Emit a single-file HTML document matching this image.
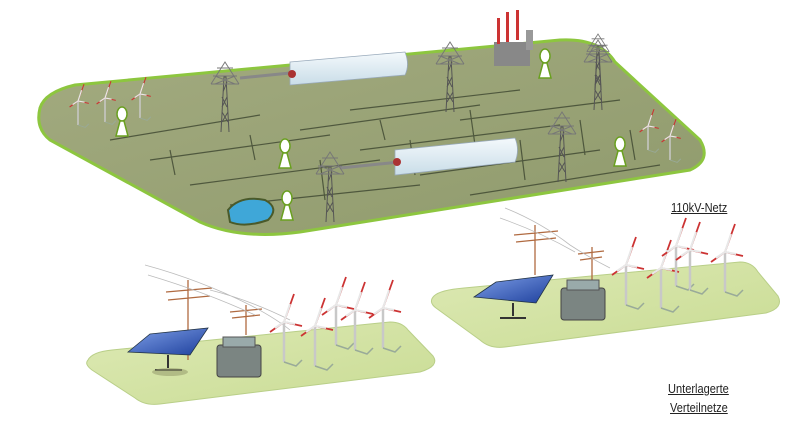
<!DOCTYPE html>
<html><head><meta charset="utf-8"><style>
html,body{margin:0;padding:0;background:#fff;}
.t{position:absolute;font-family:"Liberation Sans",sans-serif;font-size:13px;color:#222;text-decoration:underline;transform:scaleX(0.85);transform-origin:left top;}
</style></head><body>
<div style="position:relative;width:812px;height:428px;overflow:hidden;">
<svg width="812" height="428" viewBox="0 0 812 428" xmlns="http://www.w3.org/2000/svg">
<defs>
<linearGradient id="mp" x1="0" y1="0" x2="1" y2="1"><stop offset="0" stop-color="#a3ab80"/><stop offset="1" stop-color="#8f9a6c"/></linearGradient>
<linearGradient id="lp" x1="0" y1="0" x2="1" y2="1"><stop offset="0" stop-color="#dde9b4"/><stop offset="1" stop-color="#c9dc94"/></linearGradient>
<linearGradient id="box" x1="0" y1="0" x2="0" y2="1"><stop offset="0" stop-color="#f4f9fc"/><stop offset="1" stop-color="#c9dde8"/></linearGradient>
<linearGradient id="pv" x1="0" y1="0" x2="1" y2="1"><stop offset="0" stop-color="#7fa0e8"/><stop offset="1" stop-color="#1d3f9c"/></linearGradient>
<g id="tower" stroke="#555" stroke-width="1" fill="none">
<path d="M-4,0 L-1,-55 L1,-55 L4,0 M-3,-10 L3,-20 M3,-10 L-3,-20 M-3,-25 L2,-35 M2,-25 L-3,-35 M-2,-40 L2,-50"/>
<path d="M-14,-48 L14,-48 M-12,-56 L12,-56 M-8,-64 L8,-64 M-14,-48 L0,-70 L14,-48 M-10,-56 L10,-48 M10,-56 L-10,-48" stroke="#777"/>
</g>
<g id="wt" fill="none">
<path d="M0,0 L0,-40" stroke="#c8c8c8" stroke-width="2.5"/>
<path d="M0,-40 L10,-68 M0,-40 L-14,-30 M0,-40 L18,-36" stroke="#c33" stroke-width="1.8"/>
<path d="M0,-40 L6,-58 M0,-40 L-9,-34 M0,-40 L11,-38" stroke="#e8e8e8" stroke-width="2"/>
<path d="M0,0 L12,4 L18,-2" stroke="#9a9" stroke-width="1.5"/>
</g>
<g id="plant" fill="#fff" stroke="#6aa020" stroke-width="1.5">
<ellipse cx="0" cy="-16" rx="5" ry="7"/>
<path d="M-2,-9 L-6,6 L6,6 L2,-9 Z"/>
</g>
</defs>
<!-- main platform -->
<path d="M40,108 Q45,92 75,85 L560,40 Q600,38 615,62 L700,140 Q712,160 690,170 L300,232 Q240,240 200,222 L50,140 Q35,128 40,108 Z" fill="url(#mp)" stroke="#8dc63f" stroke-width="3"/>
<g stroke="#3d4630" stroke-width="1.2" fill="none" opacity="0.8">
<path d="M110,140 L260,115 M150,160 L330,135 M190,185 L380,160 M230,205 L420,185 M300,130 L480,105 M360,150 L560,125 M420,175 L600,150 M470,195 L660,165 M350,110 L520,90 M460,120 L620,100"/>
<path d="M170,150 L175,175 M250,135 L255,160 M320,160 L325,200 M410,140 L415,175 M470,110 L475,145 M520,140 L525,180 M580,120 L585,155 M630,130 L635,160 M380,120 L385,140"/>
</g>
<line x1="240" y1="78" x2="300" y2="72" stroke="#888" stroke-width="3"/>
<path d="M290,62 L405,52 Q410,65 405,75 L290,85 Z" fill="url(#box)" stroke="#9ab" stroke-width="0.8"/>
<circle cx="292" cy="74" r="4" fill="#a33"/>
<line x1="340" y1="168" x2="400" y2="162" stroke="#888" stroke-width="3"/>
<path d="M395,150 L515,138 Q520,150 515,162 L395,175 Z" fill="url(#box)" stroke="#9ab" stroke-width="0.8"/>
<circle cx="397" cy="162" r="4" fill="#a33"/>
<use href="#tower" transform="translate(225,132)"/>
<use href="#tower" transform="translate(450,112)"/>
<use href="#tower" transform="translate(598,110)"/>
<use href="#tower" transform="translate(330,222)"/>
<use href="#tower" transform="translate(562,182)"/>
<use href="#tower" transform="translate(598,90) scale(0.8)"/>
<rect x="494" y="42" width="36" height="24" fill="#888"/>
<rect x="497" y="18" width="3" height="26" fill="#c33"/>
<rect x="506" y="12" width="3" height="30" fill="#c33"/>
<rect x="516" y="10" width="3" height="30" fill="#c33"/>
<rect x="526" y="30" width="7" height="20" fill="#999"/>
<use href="#plant" transform="translate(545,72)"/>
<use href="#plant" transform="translate(122,130)"/>
<use href="#plant" transform="translate(285,162)"/>
<use href="#plant" transform="translate(287,214)"/>
<use href="#plant" transform="translate(620,160)"/>
<path d="M228,210 Q240,195 265,200 Q280,208 268,220 Q245,228 230,222 Z" fill="#3fa7d8" stroke="#4a5a2a" stroke-width="2"/>
<use href="#wt" transform="translate(78,125) scale(0.6)"/>
<use href="#wt" transform="translate(105,122) scale(0.6)"/>
<use href="#wt" transform="translate(140,118) scale(0.6)"/>
<use href="#wt" transform="translate(648,150) scale(0.6)"/>
<use href="#wt" transform="translate(670,160) scale(0.6)"/>
<!-- lower platform B -->
<path d="M434,296 Q440,290 464,288 L740,262 Q752,262 758,272 L778,296 Q784,308 766,313 L505,347 Q490,349 480,340 L436,308 Q428,302 434,296 Z" fill="url(#lp)" stroke="#b9cf88" stroke-width="1"/>
<!-- lower platform A -->
<path d="M88,360 Q92,352 112,350 L390,322 Q402,322 408,330 L433,356 Q440,366 420,372 L160,404 Q145,406 135,398 L92,370 Q84,364 88,360 Z" fill="url(#lp)" stroke="#b9cf88" stroke-width="1"/>
<!-- poles/wires -->
<g stroke="#b06a40" stroke-width="1.3" fill="none">
<path d="M188,280 L188,360 M166,292 L212,288 M168,300 L210,296 M246,305 L246,335 M230,312 L262,309 M232,318 L260,315"/>
<path d="M535,225 L535,275 M514,235 L558,231 M516,242 L556,238 M592,247 L592,283 M578,254 L604,251 M580,260 L602,257"/>
</g>
<g stroke="#bbb" stroke-width="0.8" fill="none">
<path d="M145,265 Q200,280 250,305 Q275,318 290,330 M148,275 Q205,292 255,315 M210,290 Q250,300 290,320"/>
<path d="M505,208 Q540,222 570,245 Q590,258 610,268 M500,218 Q540,232 575,252"/>
</g>
<!-- PV -->
<path d="M128,352 L150,334 L208,328 L190,355 Z" fill="url(#pv)" stroke="#234" stroke-width="0.8"/>
<path d="M168,355 L168,368 M155,370 L182,370" stroke="#333" stroke-width="2"/>
<ellipse cx="170" cy="372" rx="18" ry="4" fill="#9aa070" opacity="0.6"/>
<path d="M474,297 L496,282 L553,275 L536,303 Z" fill="url(#pv)" stroke="#234" stroke-width="0.8"/>
<path d="M513,303 L513,316 M500,318 L526,318" stroke="#333" stroke-width="2"/>
<!-- transformers -->
<rect x="217" y="345" width="44" height="32" rx="3" fill="#7b8582" stroke="#444"/>
<rect x="223" y="337" width="32" height="10" fill="#9aa" stroke="#555"/>
<rect x="561" y="288" width="44" height="32" rx="3" fill="#7b8582" stroke="#444"/>
<rect x="567" y="280" width="32" height="10" fill="#9aa" stroke="#555"/>
<!-- wind lower -->
<use href="#wt" transform="translate(284,362)"/>
<use href="#wt" transform="translate(315,366)"/>
<use href="#wt" transform="translate(336,345)"/>
<use href="#wt" transform="translate(355,350)"/>
<use href="#wt" transform="translate(383,348)"/>
<use href="#wt" transform="translate(626,305)"/>
<use href="#wt" transform="translate(661,308)"/>
<use href="#wt" transform="translate(676,286)"/>
<use href="#wt" transform="translate(690,290)"/>
<use href="#wt" transform="translate(725,292)"/>
</svg>
<div class="t" style="left:671px;top:200px;">110kV-Netz</div>
<div class="t" style="left:668px;top:381px;">Unterlagerte</div>
<div class="t" style="left:670px;top:400px;">Verteilnetze</div>
</div>
</body></html>
